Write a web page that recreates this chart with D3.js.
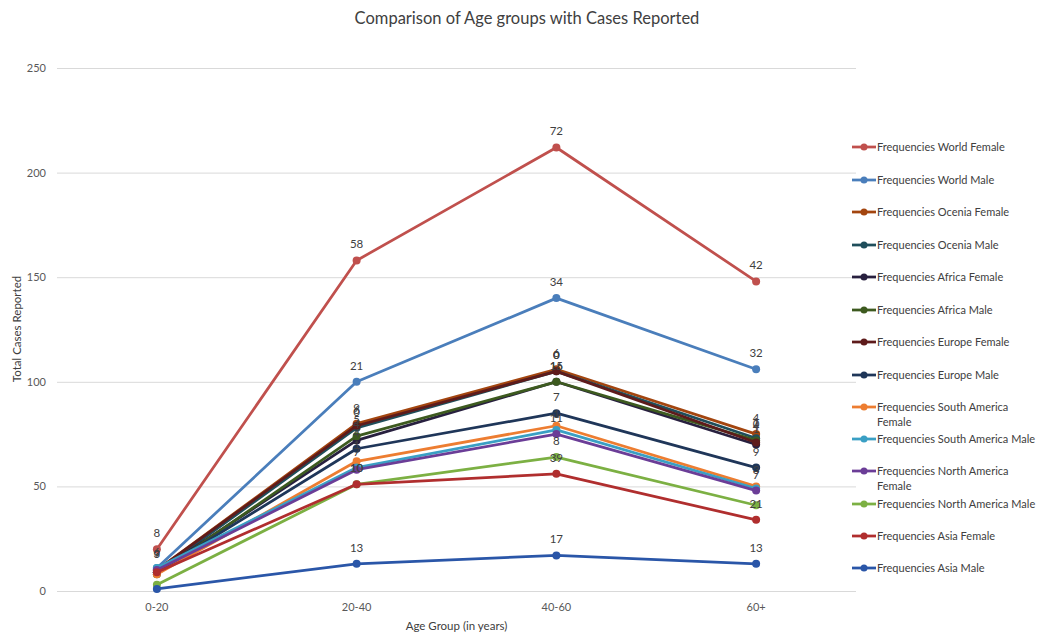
<!DOCTYPE html>
<html>
<head>
<meta charset="utf-8">
<script src="https://cdn.jsdelivr.net/npm/d3@7"></script>
<style>
  body { margin: 0; background: #fff; }
  svg { display: block; font-family: Lato, "Open Sans", sans-serif; }
</style>
</head>
<body>
<svg id="chart" width="1039" height="635"></svg>
<script>
// Age groups on the x axis
const ageGroups = ["0-20", "20-40", "40-60", "60+"];

// Series names, in legend order
const seriesNames = [
  "Frequencies World Female",
  "Frequencies World Male",
  "Frequencies Ocenia Female",
  "Frequencies Ocenia Male",
  "Frequencies Africa Female",
  "Frequencies Africa Male",
  "Frequencies Europe Female",
  "Frequencies Europe Male",
  "Frequencies South America Female",
  "Frequencies South America Male",
  "Frequencies North America Female",
  "Frequencies North America Male",
  "Frequencies Asia Female",
  "Frequencies Asia Male"
];

// Total cases per age group, one array per series
const worldFemale   = [20, 158, 212, 148];
const worldMale     = [11, 100, 140, 106];
const oceniaFemale  = [10, 80, 106, 75];
const oceniaMale    = [9, 78, 105, 73];
const africaFemale  = [9, 72, 100, 70];
const africaMale    = [8, 74, 100, 72];
const europeFemale  = [10, 79, 105, 71];
const europeMale    = [9, 68, 85, 59];
const saFemale      = [8, 62, 79, 50];
const saMale        = [11, 59, 77, 49];
const naFemale      = [10, 58, 75, 48];
const naMale        = [3, 51, 64, 41];
const asiaFemale    = [9, 51, 56, 34];
const asiaMale      = [1, 13, 17, 13];

// Data labels printed above each point (null = no label)
const worldFemaleLabels  = ["8", "58", "72", "42"];
const worldMaleLabels    = ["6", "21", "34", "32"];
const oceniaFemaleLabels = ["3", "9", "6", "4"];
const oceniaMaleLabels   = [null, "0", "0", "1"];
const africaFemaleLabels = [null, "4", "16", "1"];
const africaMaleLabels   = [null, "5", "15", "0"];
const europeFemaleLabels = ["9", "6", "0", "4"];
const europeMaleLabels   = [null, "4", "7", "9"];
const saFemaleLabels     = [null, "1", null, "3"];
const saMaleLabels       = [null, "7", "1", null];
const naFemaleLabels     = [null, null, "11", "7"];
const naMaleLabels       = [null, "10", "8", null];
const asiaFemaleLabels   = [null, "10", "39", "21"];
const asiaMaleLabels     = [null, "13", "17", "13"];

const yTicks = [0, 50, 100, 150, 200, 250];

const seriesColors = [
  "#c0504d", "#4a7ebb", "#a3450f", "#1f4e5b", "#28203f", "#3d5a1f", "#5e1b1b",
  "#1f3659", "#ed7d31", "#3a9fc4", "#6b3d97", "#7cb043", "#b02e2e", "#2a56a8"
];

const seriesValues = [worldFemale, worldMale, oceniaFemale, oceniaMale, africaFemale,
  africaMale, europeFemale, europeMale, saFemale, saMale, naFemale, naMale, asiaFemale, asiaMale];
const seriesLabels = [worldFemaleLabels, worldMaleLabels, oceniaFemaleLabels, oceniaMaleLabels,
  africaFemaleLabels, africaMaleLabels, europeFemaleLabels, europeMaleLabels, saFemaleLabels,
  saMaleLabels, naFemaleLabels, naMaleLabels, asiaFemaleLabels, asiaMaleLabels];

const series = seriesNames.map((name, i) => ({
  name, color: seriesColors[i],
  points: ageGroups.map((g, j) => ({ group: g, value: seriesValues[i][j], label: seriesLabels[i][j] }))
}));

const svg = d3.select("#chart");
const plot = { left: 57, right: 856, top: 68, bottom: 591 };

const x = d3.scaleBand().domain(ageGroups).range([plot.left, plot.right]);
const y = d3.scaleLinear().domain([0, 250]).range([plot.bottom, plot.top]);
const cx = g => x(g) + x.bandwidth() / 2;

// Title
svg.append("text")
  .attr("x", 527).attr("y", 24)
  .attr("text-anchor", "middle")
  .attr("font-size", 16.5)
  .attr("fill", "#404040")
  .text("Comparison of Age groups with Cases Reported");

// Horizontal gridlines and y tick labels
const yAxis = d3.axisLeft(y).tickValues(yTicks)
  .tickSize(-(plot.right - plot.left)).tickPadding(11);
const yg = svg.append("g").attr("transform", `translate(${plot.left},0)`).call(yAxis);
yg.select(".domain").remove();
yg.selectAll(".tick line").attr("stroke", "#d9d9d9").attr("stroke-width", 1);
yg.selectAll(".tick text").attr("fill", "#595959").attr("font-size", 11)
  .attr("font-family", "Lato, sans-serif");

// x tick labels
const xAxis = d3.axisBottom(x).tickSize(0).tickPadding(12);
const xg = svg.append("g").attr("transform", `translate(0,${plot.bottom})`).call(xAxis);
xg.select(".domain").remove();
xg.selectAll(".tick text").attr("fill", "#595959").attr("font-size", 11)
  .attr("font-family", "Lato, sans-serif");

// Axis titles
svg.append("text")
  .attr("x", (plot.left + plot.right) / 2).attr("y", 630)
  .attr("text-anchor", "middle").attr("font-size", 11.5).attr("fill", "#404040")
  .text("Age Group (in years)");
svg.append("text")
  .attr("transform", "translate(21,329) rotate(-90)")
  .attr("text-anchor", "middle").attr("font-size", 11.5).attr("fill", "#404040")
  .text("Total Cases Reported");

// Lines and markers
const line = d3.line().x(d => cx(d.group)).y(d => y(d.value));
const sg = svg.append("g").selectAll("g.series").data(series).join("g").attr("class", "series");
sg.append("path")
  .attr("d", d => line(d.points))
  .attr("fill", "none").attr("stroke", d => d.color)
  .attr("stroke-width", 2.75).attr("stroke-linejoin", "round");
sg.selectAll("circle").data(d => d.points.map(p => ({ ...p, color: d.color })))
  .join("circle")
  .attr("cx", d => cx(d.group)).attr("cy", d => y(d.value))
  .attr("r", 4).attr("fill", d => d.color);

// Data labels
const lg = svg.append("g");
series.forEach(s => {
  lg.selectAll(null).data(s.points.filter(p => p.label !== null)).join("text")
    .attr("x", d => cx(d.group)).attr("y", d => y(d.value) - 12)
    .attr("text-anchor", "middle").attr("font-size", 11.5).attr("fill", "#404040")
    .text(d => d.label);
});

// Legend
const legend = svg.append("g");
const legendRows = [147, 180, 212, 245, 277, 310, 342, 375, 407, 439, 471, 504, 536, 568];
series.forEach((s, i) => {
  const ry = legendRows[i];
  const row = legend.append("g").attr("transform", `translate(852,${ry})`);
  row.append("line").attr("x1", 0).attr("x2", 24).attr("y1", 0).attr("y2", 0)
    .attr("stroke", s.color).attr("stroke-width", 2.75);
  row.append("circle").attr("cx", 12).attr("cy", 0).attr("r", 3.5).attr("fill", s.color);
  const words = s.name.split(" ");
  const t = row.append("text").attr("x", 25).attr("y", 4)
    .attr("font-size", 11).attr("fill", "#404040");
  if (s.name.length > 31 && s.name.endsWith("Female")) {
    t.append("tspan").attr("x", 25).text(words.slice(0, -1).join(" "));
    t.append("tspan").attr("x", 25).attr("dy", 15).text(words[words.length - 1]);
  } else {
    t.text(s.name);
  }
});
</script>
</body>
</html>
